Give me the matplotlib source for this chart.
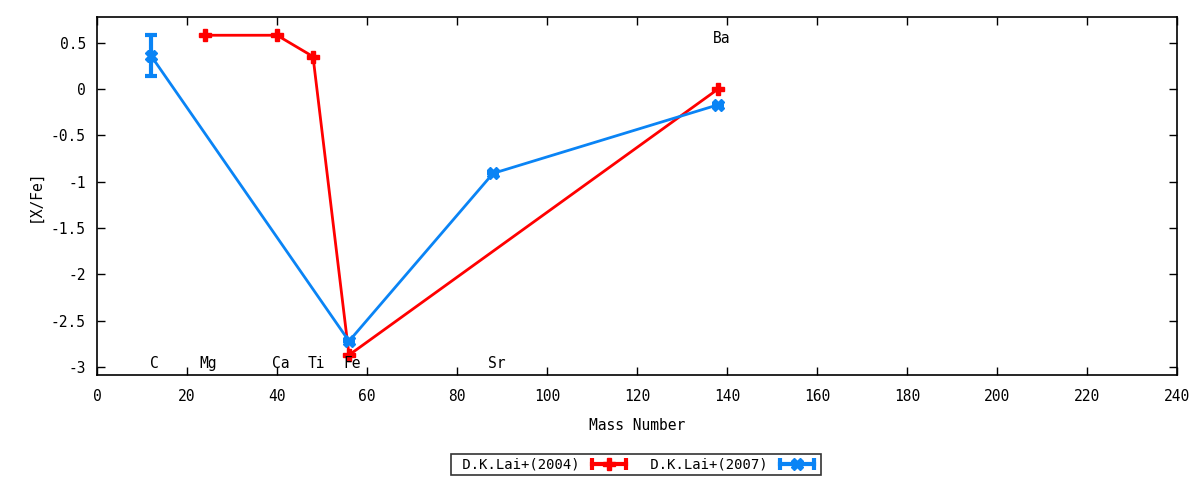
import matplotlib
matplotlib.use("Agg")
import matplotlib.pyplot as plt
from matplotlib.lines import Line2D
from matplotlib.legend_handler import HandlerLine2D, HandlerTuple
from matplotlib.ticker import FuncFormatter

plt.rcParams['font.family'] = ['DejaVu Sans Mono']
plt.rcParams['axes.unicode_minus'] = False

# Data
lai2004_mass = [24, 40, 48, 56, 138]
lai2004_xfe = [0.58, 0.58, 0.35, -2.87, 0.0]

lai2007_mass = [12, 56, 88, 138]
lai2007_xfe = [0.36, -2.72, -0.91, -0.17]
lai2007_err = [0.22, 0.0, 0.0, 0.0]

elem_names = ["C", "Mg", "Ca", "Ti", "Fe", "Sr", "Ba"]
elem_mass = [12, 24, 40, 48, 56, 88, 138]
elem_ypos = [-2.96, -2.96, -2.96, -2.96, -2.96, -2.96, 0.55]

red = '#ff0000'
blue = '#0a84f5'

fig = plt.figure(figsize=(12, 4.8), dpi=100)
ax = fig.add_axes([0.0808, 0.2188, 0.9002, 0.7458])

ax.plot(lai2004_mass, lai2004_xfe, color=red, lw=2, marker='P', ms=8,
        mec=red, mfc=red, zorder=3)
ax.errorbar(lai2007_mass, lai2007_xfe, yerr=lai2007_err, color=blue, lw=2,
            marker='X', ms=8, mec=blue, mfc=blue, elinewidth=3, capsize=4,
            capthick=3, zorder=3)

for name, m, y in zip(elem_names, elem_mass, elem_ypos):
    ax.text(m + 0.8, y, name, ha='center', va='center', fontsize=10.5)

ax.set_xlim(0, 240)
ax.set_ylim(-3.085, 0.777)
ax.set_xticks(range(0, 241, 20))
ax.set_yticks([0.5, 0, -0.5, -1, -1.5, -2, -2.5, -3])
ax.yaxis.set_major_formatter(FuncFormatter(lambda v, p: '%g' % v))
ax.tick_params(direction='in', top=True, right=True, length=6, width=1,
               labelsize=10.5)
ax.tick_params(axis='x', pad=10)
ax.tick_params(axis='y', pad=8)
for s in ax.spines.values():
    s.set_linewidth(1.2)

ax.set_xlabel('Mass Number', fontsize=10.5, labelpad=10)
ax.set_ylabel('[X/Fe]', fontsize=10.5, labelpad=6)

# Legend handles (gnuplot-style: line with end caps and center marker)
def make_handle(color, marker):
    caps = Line2D([], [], color=color, lw=3, marker='|', ms=9, mew=3)
    pt = Line2D([], [], color=color, lw=0, marker=marker, ms=8, mec=color, mfc=color)
    return (caps, pt), caps, pt

h1, c1, p1 = make_handle(red, 'P')
h2, c2, p2 = make_handle(blue, 'X')
hmap = {c1: HandlerLine2D(numpoints=2), c2: HandlerLine2D(numpoints=2),
        p1: HandlerLine2D(numpoints=1), p2: HandlerLine2D(numpoints=1),
        tuple: HandlerTuple(ndivide=1)}
leg = fig.legend([h1, h2], [' D.K.Lai+(2004)', ' D.K.Lai+(2007)'],
                 handler_map=hmap, loc='center', bbox_to_anchor=(0.53, 0.0323),
                 ncol=2, markerfirst=False, frameon=True, fancybox=False,
                 fontsize=10, handlelength=3.0, columnspacing=0.9,
                 borderpad=0.25, handletextpad=0.6, borderaxespad=0)
leg.get_frame().set_edgecolor('black')
leg.get_frame().set_linewidth(1.2)

fig.savefig('out.png', dpi=100)
